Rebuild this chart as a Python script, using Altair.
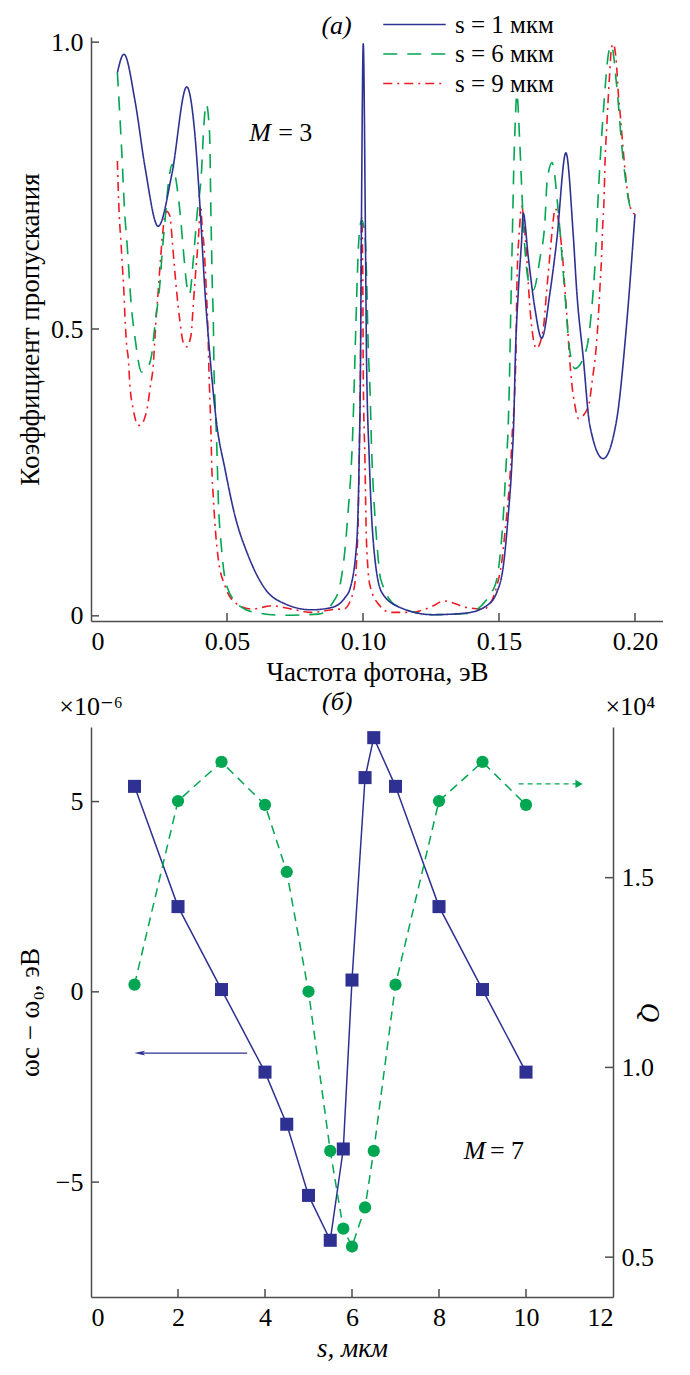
import altair as alt
import pandas as pd

FONT = "Liberation Serif, 'Times New Roman', Times, 'DejaVu Serif', serif"
BLUE = "#2e3192"
GREEN = "#00a651"
RED = "#ed1c24"
AXC = "#4d4d4d"
FS_LAB = 26
FS_TIT = 27
FS_LEG = 25
FS_ANN = 26

# ---------------- panel (а): transmission spectra ----------------
s1_freq = [0.0097, 0.0121, 0.0162, 0.0199, 0.0247, 0.0297, 0.0352, 0.0382, 0.0401, 0.0419,
           0.0438, 0.0462, 0.0493, 0.0529, 0.0578, 0.064, 0.0713, 0.0811, 0.0885, 0.0934,
           0.0952, 0.0977, 0.0986, 0.0991, 0.0994, 0.1001, 0.1009, 0.1013, 0.1023, 0.1038,
           0.1069, 0.1136, 0.1257, 0.1381, 0.1454, 0.1492, 0.1516, 0.1534, 0.1547, 0.1555,
           0.156, 0.1571, 0.1583, 0.1589, 0.1608, 0.1632, 0.1657, 0.1688, 0.1712, 0.1746,
           0.1773, 0.1786, 0.181, 0.1834, 0.1883, 0.1932, 0.1969, 0.2]
s1_trans = [0.947, 0.979, 0.897, 0.781, 0.679, 0.769, 0.922, 0.839, 0.711, 0.565,
            0.449, 0.335, 0.255, 0.175, 0.105, 0.047, 0.021, 0.0105, 0.0146, 0.032,
            0.047, 0.128, 0.274, 0.449, 0.664, 0.997, 0.664, 0.449, 0.274, 0.128,
            0.041, 0.0146, 0.002, 0.005, 0.0175, 0.041, 0.087, 0.175, 0.262, 0.35,
            0.449, 0.565, 0.653, 0.702, 0.624, 0.536, 0.484, 0.565, 0.653, 0.807,
            0.664, 0.565, 0.449, 0.332, 0.274, 0.34, 0.507, 0.70]

s6_freq = [0.0097, 0.0113, 0.0125, 0.0131, 0.0149, 0.0162, 0.0186, 0.0205, 0.0223, 0.0235,
           0.0254, 0.0262, 0.0272, 0.0284, 0.0299, 0.0309, 0.0327, 0.034, 0.0352, 0.0362,
           0.0376, 0.039, 0.0407, 0.0413, 0.0424, 0.0436, 0.0441, 0.0446, 0.045, 0.0452,
           0.0456, 0.0462, 0.0468, 0.048, 0.0499, 0.0554, 0.0603, 0.0713, 0.0836, 0.0897,
           0.0915, 0.0934, 0.0946, 0.0955, 0.0962, 0.0967, 0.0971, 0.0986, 0.0995, 0.1007,
           0.1013, 0.1019, 0.1026, 0.1032, 0.104, 0.105, 0.1065, 0.1124, 0.1257, 0.138,
           0.148, 0.1504, 0.1516, 0.1526, 0.1534, 0.1538, 0.1543, 0.1549, 0.1555, 0.1559,
           0.1566, 0.1575, 0.1583, 0.1589, 0.1596, 0.1614, 0.1626, 0.1651, 0.1669, 0.1677,
           0.1695, 0.1718, 0.1737, 0.1761, 0.1779, 0.1822, 0.1841, 0.1853, 0.1865, 0.1883,
           0.1906, 0.1914, 0.1932, 0.1957, 0.1988, 0.2]
s6_trans = [0.947, 0.81, 0.694, 0.659, 0.536, 0.484, 0.425, 0.43, 0.455, 0.507,
            0.583, 0.635, 0.688, 0.752, 0.787, 0.769, 0.705, 0.635, 0.577, 0.56,
            0.62, 0.70, 0.78, 0.839, 0.892, 0.84, 0.70, 0.577, 0.507, 0.437,
            0.373, 0.303, 0.204, 0.117, 0.052, 0.0146, 0.006, 0.001, 0.003, 0.029,
            0.052, 0.117, 0.186, 0.245, 0.315, 0.39, 0.46, 0.664, 0.69, 0.664,
            0.594, 0.472, 0.39, 0.286, 0.204, 0.134, 0.064, 0.0175, 0.002, 0.004,
            0.047, 0.105, 0.175, 0.262, 0.332, 0.402, 0.524, 0.659, 0.793, 0.851,
            0.91, 0.839, 0.752, 0.688, 0.635, 0.574, 0.568, 0.624, 0.688, 0.758,
            0.79, 0.705, 0.594, 0.46, 0.431, 0.466, 0.536, 0.612, 0.734, 0.874,
            0.988, 0.994, 0.927, 0.793, 0.705, 0.70]

s9_freq = [0.0097, 0.01, 0.0104, 0.011, 0.0115, 0.0121, 0.0125, 0.0131, 0.0137, 0.0143,
           0.0155, 0.0174, 0.018, 0.0204, 0.0219, 0.0229, 0.0235, 0.0241, 0.0247, 0.0254,
           0.0262, 0.0272, 0.0278, 0.029, 0.0299, 0.0305, 0.0315, 0.0327, 0.034, 0.0352,
           0.0368, 0.0376, 0.0385, 0.0395, 0.0403, 0.0409, 0.0415, 0.0423, 0.0428, 0.0431,
           0.0434, 0.0438, 0.0441, 0.0444, 0.045, 0.0458, 0.0468, 0.0493, 0.0529, 0.0591,
           0.0664, 0.0738, 0.0811, 0.0909, 0.0928, 0.0964, 0.0977, 0.0983, 0.0986, 0.0989,
           0.0991, 0.0995, 0.0999, 0.1001, 0.1007, 0.1013, 0.1026, 0.1062, 0.11, 0.1173,
           0.1259, 0.1296, 0.1381, 0.1443, 0.1473, 0.1492, 0.151, 0.1522, 0.1534, 0.1543,
           0.1549, 0.1553, 0.1559, 0.1563, 0.1565, 0.1568, 0.1574, 0.1583, 0.1596, 0.1602,
           0.1608, 0.1616, 0.1638, 0.1663, 0.1675, 0.1684, 0.1694, 0.1707, 0.1724, 0.1734,
           0.1743, 0.1751, 0.1758, 0.1767, 0.1779, 0.1792, 0.1828, 0.1844, 0.1857, 0.1865,
           0.1871, 0.1877, 0.1881, 0.1886, 0.189, 0.1896, 0.1906, 0.1914, 0.192, 0.1932,
           0.1938, 0.1947, 0.1957, 0.1969, 0.1988, 0.2]
s9_trans = [0.793, 0.746, 0.697, 0.653, 0.612, 0.565, 0.519, 0.472, 0.449, 0.402,
            0.361, 0.332, 0.332, 0.356, 0.402, 0.437, 0.484, 0.53, 0.565, 0.612,
            0.659, 0.699, 0.705, 0.697, 0.653, 0.618, 0.565, 0.513, 0.475, 0.469,
            0.49, 0.542, 0.6, 0.659, 0.715, 0.676, 0.647, 0.577, 0.524, 0.478,
            0.42, 0.367, 0.32, 0.262, 0.204, 0.146, 0.099, 0.052, 0.023, 0.0117,
            0.0175, 0.0117, 0.006, 0.0117, 0.0117, 0.041, 0.099, 0.186, 0.274, 0.361,
            0.449, 0.694, 0.606, 0.42, 0.274, 0.128, 0.052, 0.0175, 0.006, 0.006,
            0.0175, 0.026, 0.0146, 0.0117, 0.026, 0.052, 0.093, 0.146, 0.204, 0.262,
            0.32, 0.344, 0.408, 0.472, 0.553, 0.612, 0.664, 0.714, 0.664, 0.624,
            0.577, 0.524, 0.466, 0.501, 0.565, 0.612, 0.664, 0.71, 0.67, 0.624,
            0.565, 0.513, 0.46, 0.408, 0.367, 0.344, 0.364, 0.414, 0.466, 0.519,
            0.571, 0.624, 0.676, 0.723, 0.793, 0.851, 0.938, 0.991, 0.997, 0.962,
            0.915, 0.868, 0.81, 0.752, 0.705, 0.70]

series_labels = ["s = 1 мкм", "s = 6 мкм", "s = 9 мкм"]
series_colors = [BLUE, GREEN, RED]
series_dashes = [[1, 0], [14, 10], [9, 5, 2, 5]]

freq_ticks = [0.05, 0.10, 0.15, 0.20]
trans_ticks = [0.0, 0.5, 1.0]

# ---------------- panel (б): shift and Q factor ----------------
s_um = [1, 2, 3, 4, 4.5, 5, 5.5, 5.8, 6, 6.3, 6.5, 7, 8, 9, 10]
shift_1e6 = [5.40, 2.24, 0.06, -2.11, -3.48, -5.35, -6.53, -4.13, 0.31, 5.63, 6.68, 5.40, 2.24, 0.06, -2.11]
q_1e4 = [1.218, 1.702, 1.805, 1.692, 1.515, 1.20, 0.78, 0.575, 0.528, 0.631, 0.78, 1.218, 1.702, 1.805, 1.692]

s_ticks = [2, 4, 6, 8, 10]
shift_ticks = [-5, 0, 5]
q_ticks = [0.5, 1.0, 1.5]

# ================= build panel (а) =================
W1, H1 = 572, 584
xs1 = alt.Scale(domain=[0, 0.2103], nice=False, zero=False)
ys1 = alt.Scale(domain=[-0.009, 1.009], nice=False, zero=False)

ax_common = dict(grid=False, ticks=False, domainColor=AXC, domainWidth=1.5,
                 labelFont=FONT, labelFontSize=FS_LAB, labelColor="black",
                 titleFont=FONT, titleFontSize=FS_TIT, titleFontWeight="normal", titleColor="black")

x1 = alt.X("freq:Q", scale=xs1,
           axis=alt.Axis(values=[0] + freq_ticks,
                         labelExpr="datum.value == 0 ? '0' : format(datum.value, '.2f')",
                         title="Частота фотона, эВ", labelPadding=7, titlePadding=5, **ax_common))
y1 = alt.Y("trans:Q", scale=ys1,
           axis=alt.Axis(values=trans_ticks,
                         labelExpr="datum.value == 0 ? '0' : format(datum.value, '.1f')",
                         title="Коэффициент пропускания", labelPadding=8,
                         titleX=-61, titleY=H1 / 2, titleBaseline="middle", **ax_common))

legend = alt.Legend(title=None, orient="none", legendX=310, legendY=-26,
                    symbolType="M-2.5,0L2.5,0", symbolSize=625, symbolStrokeWidth=1.6,
                    labelFont=FONT, labelFontSize=FS_LEG, labelColor="black", rowPadding=2.5,
                    labelOffset=27, padding=0)
color1 = alt.Color("series:N", scale=alt.Scale(domain=series_labels, range=series_colors), legend=legend)
dash1 = alt.StrokeDash("series:N", scale=alt.Scale(domain=series_labels, range=series_dashes), legend=legend)

frames = []
for f, t, lab in zip([s1_freq, s6_freq, s9_freq], [s1_trans, s6_trans, s9_trans], series_labels):
    frames.append(pd.DataFrame({"freq": f, "trans": t, "series": lab}))

lines = []
for df in [frames[2], frames[1], frames[0]]:
    lines.append(alt.Chart(df).mark_line(interpolate="monotone", strokeWidth=1.6)
                 .encode(x=x1, y=y1, color=color1, strokeDash=dash1))

xt1 = alt.Chart(pd.DataFrame({"freq": freq_ticks})).mark_rule(color=AXC, strokeWidth=1.5).encode(
    x=alt.X("freq:Q", scale=xs1), y=alt.value(H1), y2=alt.value(H1 - 8))
yt1 = alt.Chart(pd.DataFrame({"trans": trans_ticks})).mark_rule(color=AXC, strokeWidth=1.5).encode(
    y=alt.Y("trans:Q", scale=ys1), x=alt.value(0), x2=alt.value(8))

ann1 = pd.DataFrame({"freq": [0.0903, 0.0582, 0.0688], "trans": [1.028, 0.842, 0.842],
                     "txt": ["(а)", "M", "= 3"]})
txt_it = alt.Chart(ann1.iloc[[0]]).mark_text(
    font=FONT, fontSize=FS_ANN, fontStyle="italic", align="center", baseline="middle").encode(
    x=alt.X("freq:Q", scale=xs1), y=alt.Y("trans:Q", scale=ys1), text="txt:N")
txt_m = alt.Chart(ann1.iloc[[1]]).mark_text(
    font=FONT, fontSize=FS_ANN, fontStyle="italic", align="left", baseline="middle").encode(
    x=alt.X("freq:Q", scale=xs1), y=alt.Y("trans:Q", scale=ys1), text="txt:N")
txt_eq = alt.Chart(ann1.iloc[[2]]).mark_text(
    font=FONT, fontSize=FS_ANN, align="left", baseline="middle").encode(
    x=alt.X("freq:Q", scale=xs1), y=alt.Y("trans:Q", scale=ys1), text="txt:N")

top = alt.layer(*lines, xt1, yt1, txt_it, txt_m, txt_eq).properties(width=W1, height=H1)

# ================= build panel (б) =================
W2, H2 = 522, 570
xs2 = alt.Scale(domain=[0, 12], nice=False, zero=False)
yl2 = alt.Scale(domain=[-8.02, 6.96], nice=False, zero=False)
yr2 = alt.Scale(domain=[0.395, 1.897], nice=False, zero=False)

x2 = alt.X("s:Q", scale=xs2, axis=alt.Axis(values=[0, 2, 4, 6, 8, 10, 12], title="s, мкм",
                                           titleFontStyle="italic", labelPadding=7, titlePadding=5,
                                           **ax_common))
yl = alt.Y("w:Q", scale=yl2, axis=alt.Axis(values=shift_ticks, title="ωc − ω₀, эВ", orient="left",
                                           labelPadding=8, titleX=-61, titleY=H2 / 2,
                                           titleBaseline="middle", **ax_common))
yr = alt.Y("q:Q", scale=yr2, axis=alt.Axis(values=q_ticks, format=".1f", title="Q", orient="right",
                                           titleFontStyle="italic", labelPadding=8,
                                           titleX=35, titleY=H2 / 2, titleBaseline="middle",
                                           **ax_common))

dfw = pd.DataFrame({"s": s_um, "w": shift_1e6})
dfq = pd.DataFrame({"s": s_um, "q": q_1e4})

blue_line = alt.Chart(dfw).mark_line(color=BLUE, strokeWidth=1.5).encode(x=x2, y=yl)
blue_pts = alt.Chart(dfw).mark_point(shape="square", filled=True, size=170, opacity=1,
                                     color=BLUE).encode(x=alt.X("s:Q", scale=xs2), y=alt.Y("w:Q", scale=yl2))
arr_b = pd.DataFrame({"s": [3.59], "s2": [1.15], "w": [-1.61]})
blue_arrow = alt.Chart(arr_b).mark_rule(color=BLUE, strokeWidth=1.3).encode(
    x=alt.X("s:Q", scale=xs2), x2="s2:Q", y=alt.Y("w:Q", scale=yl2))
blue_head = alt.Chart(pd.DataFrame({"s": [1.12], "w": [-1.61]})).mark_point(
    shape="M1,-0.45L-1,0L1,0.45L0.55,0Z", filled=True, size=120, opacity=1, color=BLUE).encode(
    x=alt.X("s:Q", scale=xs2), y=alt.Y("w:Q", scale=yl2))

xt2 = alt.Chart(pd.DataFrame({"s": s_ticks})).mark_rule(color=AXC, strokeWidth=1.5).encode(
    x=alt.X("s:Q", scale=xs2), y=alt.value(H2), y2=alt.value(H2 - 8))
ylt = alt.Chart(pd.DataFrame({"w": shift_ticks})).mark_rule(color=AXC, strokeWidth=1.5).encode(
    y=alt.Y("w:Q", scale=yl2), x=alt.value(0), x2=alt.value(8))

ann2 = pd.DataFrame({"s": [8.57, 9.17, 5.66, 0.0, 12.4], "w": [-4.18, -4.18, 7.61, 7.48, 7.48],
                     "txt": ["M", "= 7", "(б)", "×10⁻⁶", "×10⁴"]})
t_m7 = alt.Chart(ann2.iloc[[0]]).mark_text(font=FONT, fontSize=FS_ANN, fontStyle="italic", align="left",
                                          baseline="middle").encode(
    x=alt.X("s:Q", scale=xs2), y=alt.Y("w:Q", scale=yl2), text="txt:N")
t_eq7 = alt.Chart(ann2.iloc[[1]]).mark_text(font=FONT, fontSize=FS_ANN, align="left",
                                           baseline="middle").encode(
    x=alt.X("s:Q", scale=xs2), y=alt.Y("w:Q", scale=yl2), text="txt:N")
t_b = alt.Chart(ann2.iloc[[2]]).mark_text(font=FONT, fontSize=FS_ANN, fontStyle="italic", align="center",
                                         baseline="middle").encode(
    x=alt.X("s:Q", scale=xs2), y=alt.Y("w:Q", scale=yl2), text="txt:N")
t_exp = alt.Chart(ann2.iloc[[3, 4]]).mark_text(font=FONT, fontSize=FS_ANN, align="center",
                                              baseline="middle").encode(
    x=alt.X("s:Q", scale=xs2), y=alt.Y("w:Q", scale=yl2), text="txt:N")

left = alt.layer(blue_line, blue_pts, blue_arrow, blue_head, xt2, ylt, t_m7, t_eq7, t_b, t_exp)

green_line = alt.Chart(dfq).mark_line(color=GREEN, strokeWidth=1.5, strokeDash=[9, 6]).encode(x=x2, y=yr)
green_pts = alt.Chart(dfq).mark_point(shape="circle", filled=True, size=150, opacity=1,
                                      color=GREEN).encode(x=alt.X("s:Q", scale=xs2), y=alt.Y("q:Q", scale=yr2))
arr_g = pd.DataFrame({"s": [9.83], "s2": [11.2], "q": [1.747]})
green_arrow = alt.Chart(arr_g).mark_rule(color=GREEN, strokeWidth=1.3, strokeDash=[5, 4]).encode(
    x=alt.X("s:Q", scale=xs2), x2="s2:Q", y=alt.Y("q:Q", scale=yr2))
green_head = alt.Chart(pd.DataFrame({"s": [11.22], "q": [1.747]})).mark_point(
    shape="triangle-right", filled=True, size=70, opacity=1, color=GREEN).encode(
    x=alt.X("s:Q", scale=xs2), y=alt.Y("q:Q", scale=yr2))
yrt = alt.Chart(pd.DataFrame({"q": q_ticks})).mark_rule(color=AXC, strokeWidth=1.5).encode(
    y=alt.Y("q:Q", scale=yr2), x=alt.value(W2), x2=alt.value(W2 - 8))

right = alt.layer(green_line, green_pts, green_arrow, green_head, yrt)

bottom = alt.layer(left, right).resolve_scale(y="independent").properties(width=W2, height=H2)

chart = alt.vconcat(top, bottom, spacing=4).properties(
    padding={"left": 8, "top": 3, "right": 0, "bottom": 0}
).configure_view(stroke=None)

chart.save("out.html", embed_options={"renderer": "svg", "actions": False})
